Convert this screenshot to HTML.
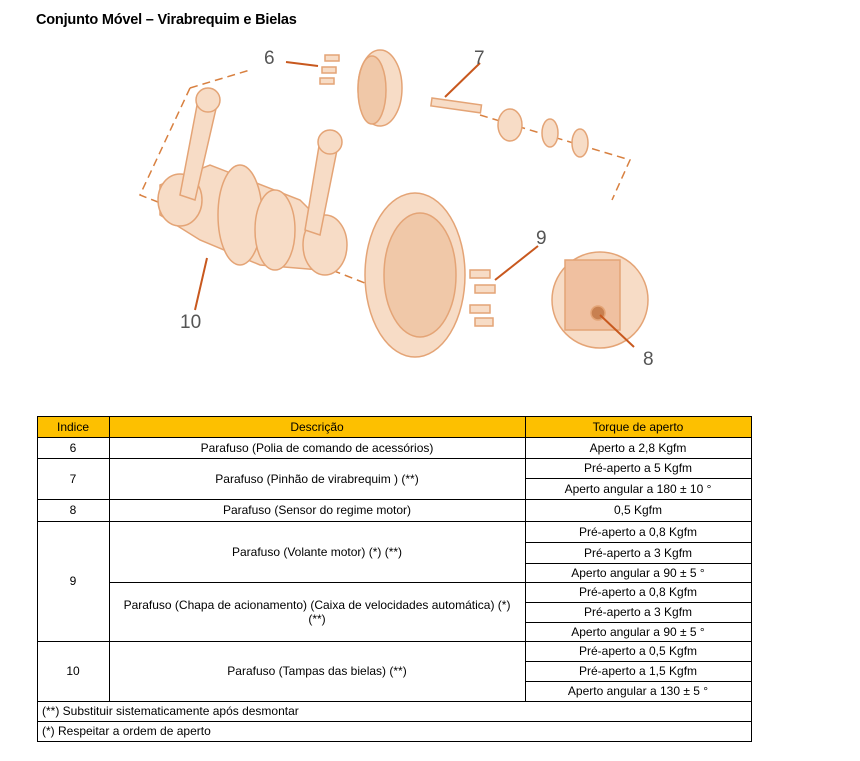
<!DOCTYPE html>
<html><head><meta charset="utf-8"><style>
body{margin:0;width:860px;height:761px;background:#fff;position:relative;overflow:hidden;font-family:"Liberation Sans",sans-serif}
.t{position:absolute;font-size:12px;color:#000;display:flex;align-items:center;justify-content:center;text-align:center;box-sizing:border-box}
.h{position:absolute;height:1px;background:#000}
.v{position:absolute;width:1px;background:#000}
</style></head><body>
<div style="position:absolute;left:36px;top:12px;font-size:14.5px;font-weight:bold;color:#000;letter-spacing:-0.2px">Conjunto Móvel – Virabrequim e Bielas</div>
<svg width="860" height="400" style="position:absolute;left:0;top:0">
<g fill="#f7dcc6" stroke="#e4a476" stroke-width="1.5">
<polyline points="190,88 140,195 370,285" fill="none" stroke-dasharray="8,5" stroke="#d88040"/>
<polyline points="190,88 250,70" fill="none" stroke-dasharray="8,5" stroke="#d88040"/>
<polyline points="480,115 630,160 612,200" fill="none" stroke-dasharray="8,5" stroke="#d88040"/>
<ellipse cx="380" cy="88" rx="22" ry="38"/>
<ellipse cx="372" cy="90" rx="14" ry="34" fill="#f0c8a8"/>
<path d="M160,185 L210,165 L300,200 L340,240 L320,270 L260,265 L200,240 L160,215Z"/>
<ellipse cx="180" cy="200" rx="22" ry="26"/>
<ellipse cx="240" cy="215" rx="22" ry="50"/>
<ellipse cx="275" cy="230" rx="20" ry="40"/>
<ellipse cx="325" cy="245" rx="22" ry="30"/>
<path d="M198,100 L218,100 L195,200 L180,195Z"/>
<path d="M320,140 L338,145 L320,235 L305,230Z"/>
<circle cx="208" cy="100" r="12"/><circle cx="330" cy="142" r="12"/>
<ellipse cx="415" cy="275" rx="50" ry="82"/>
<ellipse cx="420" cy="275" rx="36" ry="62" fill="#f0c8a8"/>
<circle cx="600" cy="300" r="48"/>
<rect x="565" y="260" width="55" height="70" fill="#f0c0a0"/>
<circle cx="598" cy="313" r="7" fill="#c88050"/>
<ellipse cx="510" cy="125" rx="12" ry="16"/>
<ellipse cx="550" cy="133" rx="8" ry="14"/>
<ellipse cx="580" cy="143" rx="8" ry="14"/>
<rect x="432" y="98" width="50" height="8" transform="rotate(8 432 98)"/>
<rect x="470" y="270" width="20" height="8"/><rect x="475" y="285" width="20" height="8"/><rect x="470" y="305" width="20" height="8"/><rect x="475" y="318" width="18" height="8"/>
<rect x="325" y="55" width="14" height="6"/><rect x="322" y="67" width="14" height="6"/><rect x="320" y="78" width="14" height="6"/>
</g>
<g stroke="#c8581e" stroke-width="2" fill="none">
<line x1="286" y1="62" x2="318" y2="66"/><line x1="480" y1="63" x2="445" y2="97"/>
<line x1="538" y1="246" x2="495" y2="280"/><line x1="634" y1="347" x2="600" y2="315"/>
<line x1="195" y1="310" x2="207" y2="258"/>
</g>
<g font-family="Liberation Sans,sans-serif" font-size="19" fill="#555">
<text x="264" y="64">6</text><text x="474" y="64">7</text><text x="536" y="244">9</text><text x="643" y="365">8</text><text x="180" y="328">10</text>
</g>
</svg>
<div style="position:absolute;left:37px;top:416px;width:714px;height:21px;background:#fdc000"></div>
<div class="h" style="left:37px;top:416px;width:715px"></div>
<div class="h" style="left:37px;top:437px;width:715px"></div>
<div class="h" style="left:37px;top:458px;width:715px"></div>
<div class="h" style="left:525px;top:478px;width:227px"></div>
<div class="h" style="left:37px;top:499px;width:715px"></div>
<div class="h" style="left:37px;top:521px;width:715px"></div>
<div class="h" style="left:525px;top:542px;width:227px"></div>
<div class="h" style="left:525px;top:563px;width:227px"></div>
<div class="h" style="left:109px;top:582px;width:643px"></div>
<div class="h" style="left:525px;top:602px;width:227px"></div>
<div class="h" style="left:525px;top:622px;width:227px"></div>
<div class="h" style="left:37px;top:641px;width:715px"></div>
<div class="h" style="left:525px;top:661px;width:227px"></div>
<div class="h" style="left:525px;top:681px;width:227px"></div>
<div class="h" style="left:37px;top:701px;width:715px"></div>
<div class="h" style="left:37px;top:721px;width:715px"></div>
<div class="h" style="left:37px;top:741px;width:715px"></div>
<div class="v" style="left:37px;top:416px;height:326px"></div>
<div class="v" style="left:751px;top:416px;height:326px"></div>
<div class="v" style="left:109px;top:416px;height:285px"></div>
<div class="v" style="left:525px;top:416px;height:285px"></div>
<div class="t" style="left:37px;top:416px;width:72px;height:21px">Indice</div>
<div class="t" style="left:109px;top:416px;width:416px;height:21px">Descrição</div>
<div class="t" style="left:525px;top:416px;width:226px;height:21px">Torque de aperto</div>
<div class="t" style="left:37px;top:437px;width:72px;height:21px">6</div>
<div class="t" style="left:109px;top:437px;width:416px;height:21px">Parafuso (Polia de comando de acessórios)</div>
<div class="t" style="left:525px;top:437px;width:226px;height:21px">Aperto a 2,8 Kgfm</div>
<div class="t" style="left:37px;top:458px;width:72px;height:41px">7</div>
<div class="t" style="left:109px;top:458px;width:416px;height:41px">Parafuso (Pinhão de virabrequim ) (**)</div>
<div class="t" style="left:525px;top:458px;width:226px;height:20px">Pré-aperto a 5 Kgfm</div>
<div class="t" style="left:525px;top:478px;width:226px;height:21px">Aperto angular a 180 ± 10 °</div>
<div class="t" style="left:37px;top:499px;width:72px;height:22px">8</div>
<div class="t" style="left:109px;top:499px;width:416px;height:22px">Parafuso (Sensor do regime motor)</div>
<div class="t" style="left:525px;top:499px;width:226px;height:22px">0,5 Kgfm</div>
<div class="t" style="left:37px;top:521px;width:72px;height:120px">9</div>
<div class="t" style="left:109px;top:521px;width:416px;height:61px">Parafuso (Volante motor) (*) (**)</div>
<div class="t" style="left:525px;top:521px;width:226px;height:21px">Pré-aperto a 0,8 Kgfm</div>
<div class="t" style="left:525px;top:542px;width:226px;height:21px">Pré-aperto a 3 Kgfm</div>
<div class="t" style="left:525px;top:563px;width:226px;height:19px">Aperto angular a 90 ± 5 °</div>
<div class="t" style="left:109px;top:582px;width:416px;height:59px;padding:0 8px">Parafuso (Chapa de acionamento) (Caixa de velocidades automática) (*)<br>(**)</div>
<div class="t" style="left:525px;top:582px;width:226px;height:20px">Pré-aperto a 0,8 Kgfm</div>
<div class="t" style="left:525px;top:602px;width:226px;height:20px">Pré-aperto a 3 Kgfm</div>
<div class="t" style="left:525px;top:622px;width:226px;height:19px">Aperto angular a 90 ± 5 °</div>
<div class="t" style="left:37px;top:641px;width:72px;height:60px">10</div>
<div class="t" style="left:109px;top:641px;width:416px;height:60px">Parafuso (Tampas das bielas) (**)</div>
<div class="t" style="left:525px;top:641px;width:226px;height:20px">Pré-aperto a 0,5 Kgfm</div>
<div class="t" style="left:525px;top:661px;width:226px;height:20px">Pré-aperto a 1,5 Kgfm</div>
<div class="t" style="left:525px;top:681px;width:226px;height:20px">Aperto angular a 130 ± 5 °</div>
<div class="t" style="left:42px;top:701px;height:20px;justify-content:flex-start">(**) Substituir sistematicamente após desmontar</div>
<div class="t" style="left:42px;top:721px;height:20px;justify-content:flex-start">(*) Respeitar a ordem de aperto</div>
</body></html>
